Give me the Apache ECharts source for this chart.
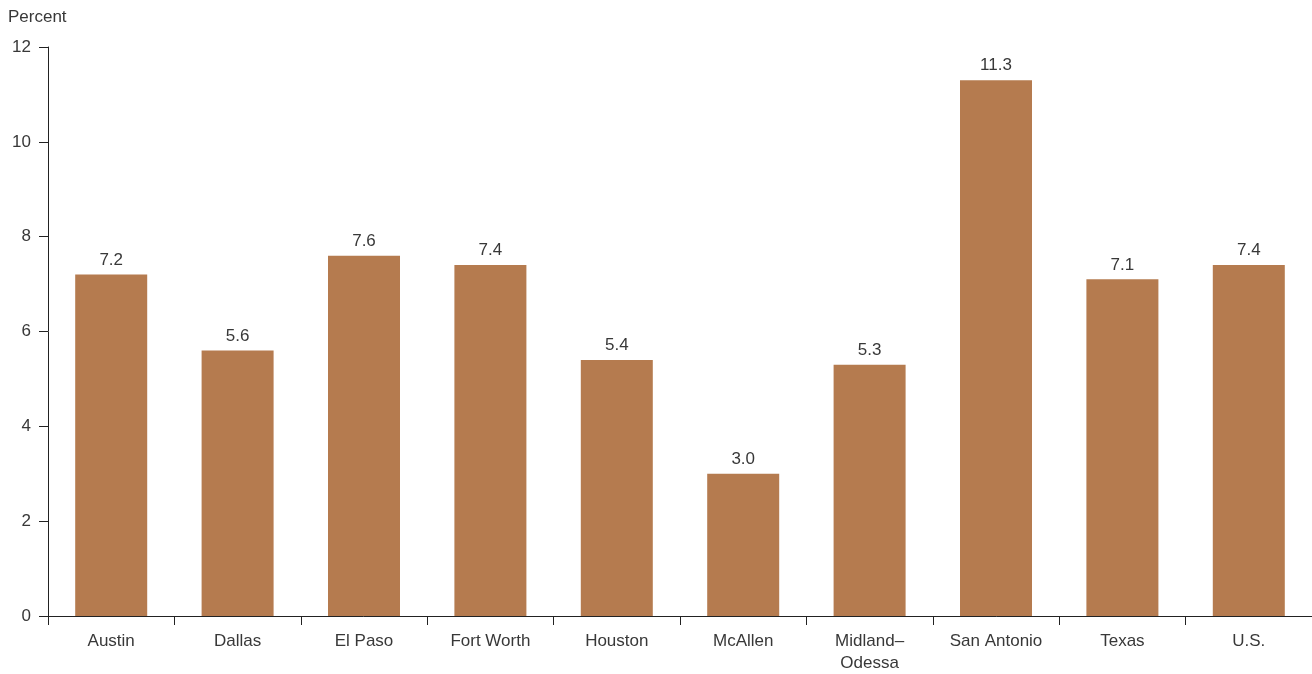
<!DOCTYPE html>
<html><head><meta charset="utf-8">
<script src="https://cdn.jsdelivr.net/npm/echarts@6/dist/echarts.min.js"></script>
<style>html,body{margin:0;padding:0;background:#fff}#c{width:1312px;height:674px}</style>
</head><body><div id="c"></div>
<script>
const categories = ['Austin','Dallas','El Paso','Fort Worth','Houston','McAllen','Midland–\nOdessa','San Antonio','Texas','U.S.'];
const values = [7.2, 5.6, 7.6, 7.4, 5.4, 3.0, 5.3, 11.3, 7.1, 7.4];
const yTicks = [0, 2, 4, 6, 8, 10, 12];
const font = '"Liberation Sans", Arial, sans-serif';
const txt = '#383838';
const chart = echarts.init(document.getElementById('c'));
chart.setOption({
  animation: false,
  grid: {left: 48, right: 0, top: 47, bottom: 55, containLabel: false},
  xAxis: {
    type: 'category', data: categories,
    axisLine: {lineStyle: {color: '#222', width: 1}},
    axisTick: {show: true, length: 9, lineStyle: {color: '#222'}},
    axisLabel: {color: txt, fontSize: 17, fontFamily: font, margin: 14, lineHeight: 22}
  },
  yAxis: {
    type: 'value', min: yTicks[0], max: yTicks[yTicks.length-1], interval: 2,
    name: 'Percent', nameLocation: 'end', nameGap: 0,
    nameTextStyle: {color: txt, fontSize: 17, fontFamily: font, align: 'left', verticalAlign: 'bottom', padding: [0,0,21,-40]},
    axisLine: {show: true, lineStyle: {color: '#222', width: 1}},
    axisTick: {show: true, length: 9, lineStyle: {color: '#222'}},
    axisLabel: {color: txt, fontSize: 17, fontFamily: font, margin: 17},
    splitLine: {show: false}
  },
  series: [{
    type: 'bar', data: values, barWidth: 72,
    itemStyle: {color: '#B57B4F'},
    label: {show: true, position: 'top', distance: 6, color: txt, fontSize: 17, fontFamily: font,
      formatter: p => p.value.toFixed(1)}
  }]
});
</script></body></html>
